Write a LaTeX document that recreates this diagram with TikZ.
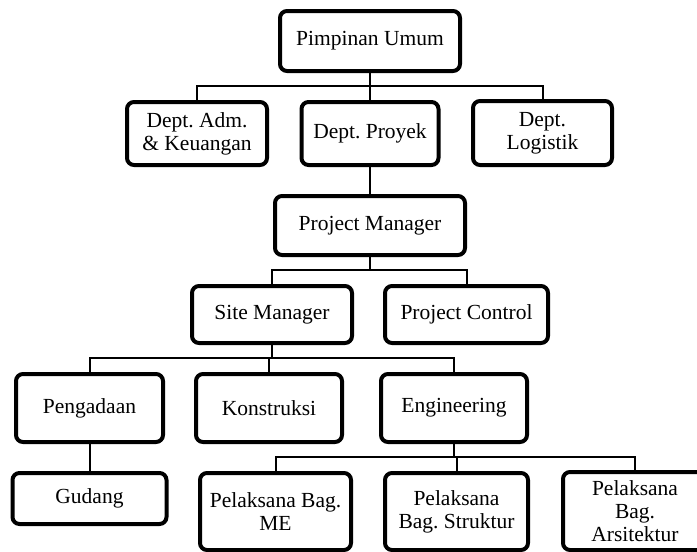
\documentclass[tikz,border=0pt]{standalone}
\usepackage{fontspec}
\setmainfont{Liberation Serif}
\frenchspacing
\begin{document}
\begin{tikzpicture}[x=1pt,y=-1pt,
  box/.style={draw=black,line width=4pt,rounded corners=7pt,fill=white,align=center,inner sep=0pt,font=\fontsize{21.5}{23}\selectfont},
  conn/.style={draw=black,line width=2pt}]
\useasboundingbox (0,0) rectangle (697,552);
% nodes
\node[box,minimum width=180pt,minimum height=60pt] (pu) at (370,41) {Pimpinan Umum};
\node[box,minimum width=140pt,minimum height=63pt] (adm) at (197,133.5) {Dept. Adm.\\ \& Keuangan};
\node[box,minimum width=137pt,minimum height=63pt] (proyek) at (370,133.5) {Dept. Proyek};
\node[box,minimum width=139pt,minimum height=64pt] (log) at (542.5,133) {Dept.\\ Logistik};
\node[box,minimum width=190pt,minimum height=59pt] (pm) at (370,225.5) {Project Manager};
\node[box,minimum width=160pt,minimum height=57pt] (sm) at (272,314.5) {Site Manager};
\node[box,minimum width=163pt,minimum height=57pt] (pc) at (466.5,314.5) {Project Control};
\node[box,minimum width=147pt,minimum height=68pt] (peng) at (89.5,408) {Pengadaan};
\node[box,minimum width=146pt,minimum height=68pt] (kon) at (269,408) {Konstruksi};
\node[box,minimum width=146pt,minimum height=68pt] (eng) at (454,408) {Engineering};
\node[box,minimum width=154pt,minimum height=51pt] (gud) at (89.5,498.5) {Gudang};
\node[box,minimum width=151pt,minimum height=77pt] (pbme) at (275.5,511.5) {Pelaksana Bag.\\ ME};
\node[box,minimum width=143pt,minimum height=77pt] (pbs) at (456.5,511.5) {Pelaksana\\ Bag. Struktur};
\node[box,minimum width=144pt,minimum height=78pt] (pba) at (635,511) {Pelaksana\\ Bag.\\ Arsitektur};
% bus coordinates
\coordinate (b1) at (370,86);
\coordinate (b2) at (370,270);
\coordinate (b3) at (272,358);
\coordinate (b4) at (454,457);
% connectors
\draw[conn] (pu.south) -- (b1);
\draw[conn] (b1) -| (adm.north);
\draw[conn] (b1) -- (proyek.north);
\draw[conn] (b1) -| (log.north);
\draw[conn] (proyek.south) -- (pm.north);
\draw[conn] (pm.south) -- (b2);
\draw[conn] (b2) -| (sm.north);
\draw[conn] (b2) -| (pc.north);
\draw[conn] (sm.south) -- (b3);
\draw[conn] (b3) -| (peng.north);
\draw[conn] (b3) -| (kon.north);
\draw[conn] (b3) -| (eng.north);
\draw[conn] (peng.south) -- (gud.north);
\draw[conn] (eng.south) -- (b4);
\draw[conn] (b4) -| (pbme.north);
\draw[conn] (b4) -| (pbs.north);
\draw[conn] (b4) -| (pba.north);
\end{tikzpicture}
\end{document}
